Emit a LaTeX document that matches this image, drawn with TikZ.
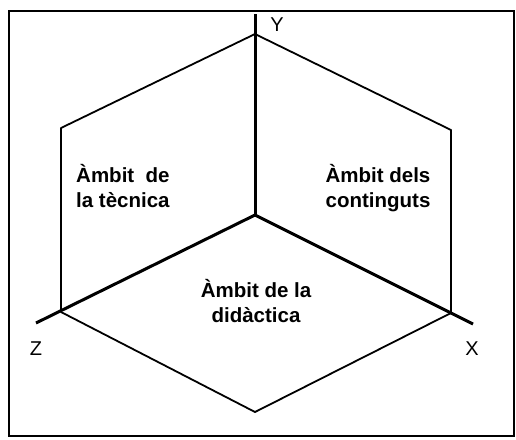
\documentclass[tikz,border=0pt]{standalone}
\usepackage{fontspec}
\setmainfont{Liberation Sans}
\begin{document}
\begin{tikzpicture}[x=1pt,y=-1pt]
            \tikzstyle{ambit}=[font=\bfseries\fontsize{20.5}{25}\selectfont,inner sep=0];
            \tikzstyle{axis label}=[font=\fontsize{20}{22}\selectfont,inner sep=0];
            \tikzstyle{edge}=[line width=1.8pt,line join=round];
            \tikzstyle{axis}=[line width=3pt];
            \useasboundingbox (0,0) rectangle (516,439);
            \draw[line width=2pt] (9,11) rectangle (514,436);
            % vertices of the hexagon
            \coordinate (O) at (255,215);
            \coordinate (top) at (255,34);
            \coordinate (lt) at (61,128);
            \coordinate (rt) at (451,130);
            \coordinate (lb) at (61,312);
            \coordinate (rb) at (451,313);
            \coordinate (bot) at (255,412);
            \coordinate (yend) at (255,14);
            \coordinate (zend) at (36,323);
            \coordinate (xend) at (473,324);
            \draw[edge] (top)--(lt)--(lb)--(bot)--(rb)--(rt)--cycle;
            \draw[axis] (O)--(yend);
            \foreach \e in {zend,xend} \draw[axis] (O)--(\e);
            \node[axis label] (Y) at (277,25) {Y};
            \node[axis label] (Z) at (36,349) {Z};
            \node[axis label] (X) at (472,349) {X};
            \node[ambit,anchor=base west,align=left] (tec) at (76,207) {Àmbit\ \ de\\la tècnica};
            \node[ambit,anchor=base,align=center] (con) at (378,207) {Àmbit dels\\continguts};
            \node[ambit,anchor=base,align=center] (did) at (256,322) {Àmbit de la\\didàctica};
\end{tikzpicture}
\end{document}
